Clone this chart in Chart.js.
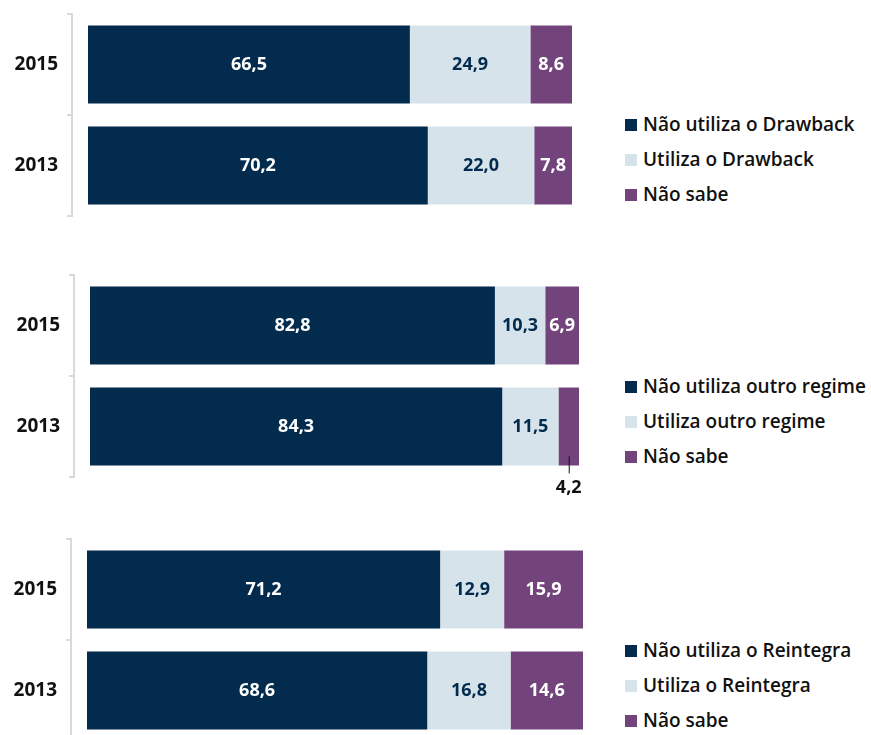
<!DOCTYPE html>
<html>
<head>
<meta charset="utf-8">
<script src="https://cdn.jsdelivr.net/npm/chart.js@4"></script>
<style>
  body { margin: 0; background: #fff; font-family: "Open Sans", sans-serif; }
  #wrap { position: relative; width: 871px; height: 735px; overflow: hidden; }
  canvas { position: absolute; left: 0; }
  .legend { position: absolute; left: 625px; font-size: 19px; font-weight: 600; color: #111; }
  .legend div { height: 35px; line-height: 35px; white-space: nowrap; }
  .legend span { display: inline-block; width: 12px; height: 12px; margin-right: 6px; vertical-align: 0px; }
</style>
</head>
<body>
<div id="wrap">
  <canvas id="chart1" width="600" height="250" style="top:0px"></canvas>
  <canvas id="chart2" width="600" height="250" style="top:261px"></canvas>
  <canvas id="chart3" width="600" height="250" style="top:525px"></canvas>
  <div class="legend" id="legend1" style="top:107px"></div>
  <div class="legend" id="legend2" style="top:369px"></div>
  <div class="legend" id="legend3" style="top:633px"></div>
</div>
<script>
var years = ['2015', '2013']

var drawbackNao = [66.5, 70.2]
var drawbackSim = [24.9, 22.0]
var drawbackNaoSabe = [8.6, 7.8]
var drawbackLabels = ['Não utiliza o Drawback', 'Utiliza o Drawback', 'Não sabe']

var outroNao = [82.8, 84.3]
var outroSim = [10.3, 11.5]
var outroNaoSabe = [6.9, 4.2]
var outroLabels = ['Não utiliza outro regime', 'Utiliza outro regime', 'Não sabe']

var reintegraNao = [71.2, 68.6]
var reintegraSim = [12.9, 16.8]
var reintegraNaoSabe = [15.9, 14.6]
var reintegraLabels = ['Não utiliza o Reintegra', 'Utiliza o Reintegra', 'Não sabe']

var colors = ['#022B4E', '#D7E3EB', '#72447B']
var textColors = ['#ffffff', '#022B4E', '#ffffff']

Chart.defaults.font.family = '"Open Sans", sans-serif'

function fmt(v) {
  return v.toFixed(1).replace('.', ',')
}

// rótulos dentro das barras (ou abaixo, com linha, quando não cabem)
var barLabels = {
  id: 'barLabels',
  afterDatasetsDraw: function (chart) {
    var ctx = chart.ctx
    ctx.save()
    ctx.font = 'bold 18px "Open Sans", sans-serif'
    ctx.textAlign = 'center'
    ctx.textBaseline = 'middle'
    chart.data.datasets.forEach(function (ds, i) {
      chart.getDatasetMeta(i).data.forEach(function (bar, j) {
        var v = ds.data[j]
        var x = (bar.x + bar.base) / 2
        if (v < 5) {
          var bottom = bar.y + bar.height / 2
          ctx.strokeStyle = '#111'
          ctx.lineWidth = 1
          ctx.beginPath()
          ctx.moveTo(x + 0.5, bottom - 9)
          ctx.lineTo(x + 0.5, bottom + 8)
          ctx.stroke()
          ctx.fillStyle = '#111'
          ctx.fillText(fmt(v), x, bottom + 22)
        } else {
          ctx.fillStyle = textColors[i]
          ctx.fillText(fmt(v), x, bar.y)
        }
      })
    })
    ctx.restore()
  }
}

// colchete cinza à esquerda das barras
var bracket = {
  id: 'bracket',
  afterDraw: function (chart) {
    var ctx = chart.ctx
    var a = chart.chartArea
    var x = a.left - 16
    var mid = (a.top + a.bottom) / 2
    ctx.save()
    ctx.strokeStyle = '#d9d9d9'
    ctx.lineWidth = 2
    ctx.beginPath()
    ctx.moveTo(x, a.top)
    ctx.lineTo(x, a.bottom)
    ;[a.top, mid, a.bottom].forEach(function (y) {
      ctx.moveTo(x + 1, y)
      ctx.lineTo(x - 5, y)
    })
    ctx.stroke()
    ctx.restore()
  }
}

function makeChart(id, legendId, axisWidth, rightPad, labels, nao, sim, naoSabe) {
  var ctx = document.getElementById(id).getContext('2d')
  var values = [nao, sim, naoSabe]
  var chart = new Chart(ctx, {
    type: 'bar',
    data: {
      labels: years,
      datasets: values.map(function (d, i) {
        return {
          label: labels[i],
          data: d,
          backgroundColor: colors[i],
          borderWidth: 0,
          barPercentage: 0.77,
          categoryPercentage: 1
        }
      })
    },
    options: {
      indexAxis: 'y',
      responsive: false,
      animation: false,
      layout: { padding: { top: 14, bottom: 34, left: 0, right: rightPad } },
      plugins: { legend: { display: false }, tooltip: { enabled: false } },
      scales: {
        x: { stacked: true, min: 0, max: 100, display: false },
        y: {
          stacked: true,
          grid: { display: false, drawTicks: false },
          border: { display: false },
          ticks: { padding: 30, color: '#111', font: { size: 19, weight: 'bold' } },
          afterFit: function (s) {
            s.width = axisWidth
            s.paddingTop = 0
            s.paddingBottom = 0
          }
        }
      }
    },
    plugins: [barLabels, bracket]
  })

  var legend = document.getElementById(legendId)
  chart.data.datasets.forEach(function (ds) {
    var row = document.createElement('div')
    var box = document.createElement('span')
    box.style.background = ds.backgroundColor
    row.appendChild(box)
    row.appendChild(document.createTextNode(ds.label))
    legend.appendChild(row)
  })
  return chart
}

var myChart1 = makeChart('chart1', 'legend1', 88, 28, drawbackLabels, drawbackNao, drawbackSim, drawbackNaoSabe)
var myChart2 = makeChart('chart2', 'legend2', 90, 21, outroLabels, outroNao, outroSim, outroNaoSabe)
var myChart3 = makeChart('chart3', 'legend3', 87, 17, reintegraLabels, reintegraNao, reintegraSim, reintegraNaoSabe)
</script>
</body>
</html>
